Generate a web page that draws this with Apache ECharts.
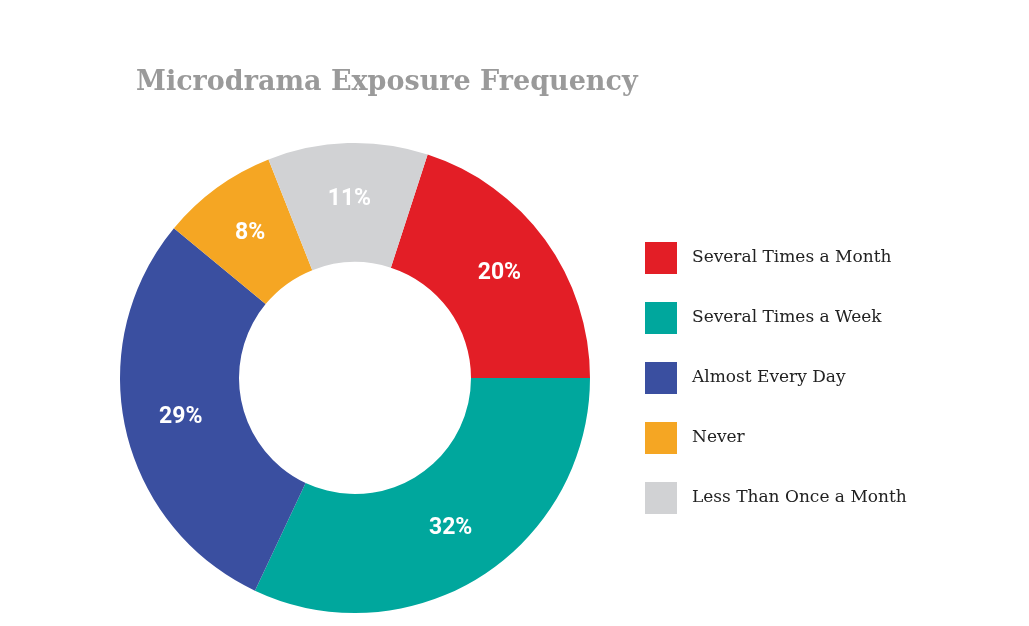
<!DOCTYPE html>
<html lang="en">
<head>
    <meta charset="UTF-8">
    <title>Microdrama Exposure Frequency</title>
    <script src="https://cdn.jsdelivr.net/npm/echarts@6/dist/echarts.min.js"></script>
    <style>html,body{margin:0;background:#fff;}</style>
</head>
<body>
    <div id="main" style="width: 1029px;height:626px;"></div>
    <script type="text/javascript">
        var categories = ['Several Times a Month', 'Several Times a Week', 'Almost Every Day', 'Never', 'Less Than Once a Month'];
        var shares = [20, 32, 29, 8, 11];
        var colors = ['#E31E26', '#00A79D', '#3A4FA0', '#F5A623', '#D1D2D4'];

        var myChart = echarts.init(document.getElementById('main'));
        var option = {
            title: {
                text: 'Microdrama Exposure Frequency',
                left: 131,
                top: 64,
                textStyle: {fontFamily: 'DejaVu Serif', fontSize: 27, fontWeight: 'bold', color: '#9a9a9a'}
            },
            legend: {
                orient: 'vertical',
                left: 640,
                top: 237,
                itemWidth: 32,
                itemHeight: 32,
                itemGap: 28,
                icon: 'rect',
                data: categories,
                textStyle: {fontFamily: 'DejaVu Serif', fontSize: 17, color: '#222', padding: [0, 0, 0, 10]}
            },
            series: [{
                type: 'pie',
                center: [355, 378],
                radius: [116, 235],
                startAngle: 72,
                avoidLabelOverlap: false,
                label: {
                    position: 'inside',
                    formatter: '{c}%',
                    color: '#fff',
                    fontFamily: 'Roboto',
                    fontWeight: 'bold',
                    fontSize: 23
                },
                labelLine: {show: false},
                data: categories.map(function (c, i) {
                    return {name: c, value: shares[i], itemStyle: {color: colors[i]}};
                })
            }]
        };
        myChart.setOption(option);
    </script>
</body>
</html>
